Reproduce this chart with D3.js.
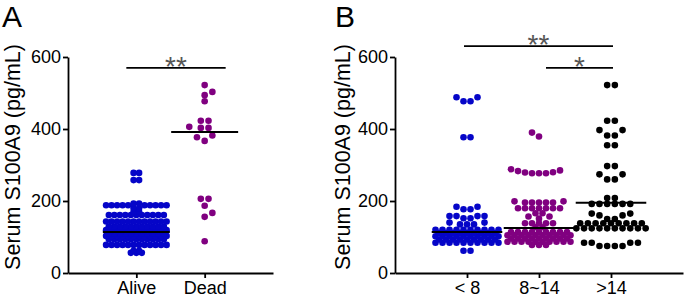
<!DOCTYPE html>
<html>
<head>
<meta charset="utf-8">
<script src="https://cdn.jsdelivr.net/npm/d3@7"></script>
<style>
  body { margin: 0; background: #fff; }
  svg { display: block; font-family: Arial, "Liberation Sans", sans-serif; }
</style>
</head>
<body>
<div id="chart"></div>
<script>
// ---- data, panel A (survival) ----
const survival = ["Alive", "Dead"];
const alive = [
  56, 56, 56, 62, 62,
  78, 78, 78, 78, 78, 78, 78, 78, 78, 78, 78, 78,
  94, 94, 94, 94, 94, 94, 94, 94, 94, 94, 94,
  103, 103, 103, 103, 103, 103, 103, 103, 103, 103, 103, 103,
  110, 110, 110, 110, 110, 110, 110, 110, 110, 110, 110,
  119, 119, 119, 119, 119, 119, 119, 119, 119, 119, 119, 119,
  129, 129, 129, 129, 129, 129, 129, 129, 129, 129, 129,
  143, 143, 143, 143, 143, 143, 143, 143, 143, 143, 143, 143,
  161, 161, 161, 161, 161, 161, 161, 161, 161, 161, 161,
  170, 170, 180, 180,
  188, 188, 188, 188, 188, 188, 188, 188, 188, 188,
  193, 193, 258, 258, 278, 278
];
const dead = [88, 156, 167, 187, 206, 206, 367, 377, 382, 403, 403, 406, 423, 423, 477, 494, 503, 522];
const survivalMedians = [114, 392];

// ---- data, panel B (length of stay) ----
const stay = ["< 8", "8~14", ">14"];
const stayUnder8 = [
  62, 62,
  84, 84, 84, 84, 84, 84, 84, 84, 84, 84,
  93, 93, 93, 93, 93, 93, 93, 93, 93,
  102, 102, 102, 102, 102, 102, 102, 102, 102, 102,
  111, 111, 111, 111, 111, 111, 111, 111, 111,
  120, 120, 120, 120, 120, 120, 120, 120, 120, 120,
  135, 135, 135, 140, 140, 152, 152, 158, 158, 158, 158,
  177, 177, 184, 184, 377, 377, 477, 477, 488, 488
];
const stay8to14 = [
  78, 78, 78,
  87, 87, 87, 87, 87, 87, 87, 87, 87, 87,
  96, 96, 96, 96, 96, 96, 96, 96, 96,
  105, 105, 105, 105, 105, 105, 105, 105, 105, 105,
  114, 114, 114, 114, 114, 114, 114, 114, 114,
  127, 127, 138, 138, 138, 138, 138, 151, 157, 157, 166, 166,
  180, 180, 180, 180, 180, 180, 180,
  196, 196, 196, 196, 196, 199, 199,
  277, 277, 277, 279, 280, 283, 285, 288, 379, 390
];
const stayOver14 = [
  75, 75, 75, 75, 84, 84, 84, 84,
  124, 124, 124, 124, 124, 124, 124, 124, 124, 124,
  138, 138, 138, 138, 138, 138, 138, 138, 138,
  150, 150, 160, 160, 165, 165,
  192, 192, 192, 192, 192, 192,
  208, 208, 260, 260, 274, 274, 297, 297,
  355, 355, 382, 382, 397, 397, 423, 423, 522, 522
];
const stayMedians = [114, 125, 195];

const yTicks = [0, 200, 400, 600];
const blue = "#0505c8", purple = "#800080", black = "#000000";

// ---- layout ----
const W = 685, H = 298;
const y = d3.scaleLinear().domain([0, 600]).range([273, 57]);
const R = 3.3;

const svg = d3.select("#chart").append("svg")
  .attr("width", W).attr("height", H);

// GraphPad-like swarm: ascending order, identical values centred as a row,
// each dot takes the free slot nearest the centre
function swarm(values, step, minDist) {
  const sorted = values.slice().sort((a, b) => a - b);
  const placed = [];
  let flip = 1;
  let i = 0;
  while (i < sorted.length) {
    let j = i;
    while (j < sorted.length && sorted[j] === sorted[i]) j++;
    const half = (j - i) % 2 === 0 ? 0.5 : 0;
    const py = y(sorted[i]);
    for (let k = i; k < j; k++) {
      const cands = [];
      if (half === 0) cands.push(0);
      for (let s = 0; s < 40; s++) {
        const o = half === 0 ? s + 1 : s + 0.5;
        cands.push(flip * o, -flip * o);
      }
      for (const o of cands) {
        const px = o * step;
        const hit = placed.some(p => {
          const dx = p.dx - px, dy = p.py - py;
          return dx * dx + dy * dy < minDist * minDist - 1e-6;
        });
        if (!hit) { placed.push({ v: sorted[k], dx: px, py: py }); break; }
      }
    }
    if (j - i === 1) flip = -flip;
    i = j;
  }
  return placed;
}

function drawPanel(cfg) {
  const g = svg.append("g");
  const x = d3.scalePoint().domain(cfg.cats).range([cfg.left, cfg.right]).padding(1);

  // panel letter
  g.append("text")
    .attr("x", cfg.letterX).attr("y", 27)
    .style("font-size", "30px")
    .text(cfg.letter);

  // y label
  g.append("text")
    .attr("transform", "translate(" + cfg.labelX + ",157) rotate(-90)")
    .style("text-anchor", "middle")
    .style("font-size", "21.5px")
    .text("Serum S100A9 (pg/mL)");

  // axes
  const ya = g.append("g")
    .attr("transform", "translate(" + cfg.left + ",0)")
    .call(d3.axisLeft(y).tickValues(yTicks).tickSize(5).tickSizeOuter(0).tickPadding(2));
  const xa = g.append("g")
    .attr("transform", "translate(0," + y(0) + ")")
    .call(d3.axisBottom(x).tickSize(5).tickSizeOuter(0).tickPadding(3));
  [ya, xa].forEach(a => {
    a.selectAll("path, line").attr("stroke", "#000").attr("stroke-width", 1.8);
    a.selectAll("text").attr("fill", "#000").style("font-size", "18px")
      .style("font-family", "Arial, 'Liberation Sans', sans-serif");
  });

  // dots
  cfg.groups.forEach((vals, gi) => {
    const cx = x(cfg.cats[gi]);
    const pts = swarm(vals, cfg.steps[gi], cfg.minDist[gi]);
    g.append("g").selectAll("circle")
      .data(pts)
      .enter().append("circle")
      .attr("cx", d => cx + d.dx)
      .attr("cy", d => y(d.v))
      .attr("r", R)
      .attr("fill", cfg.colors[gi]);
  });

  // median lines
  const half = x.step() * 0.49;
  g.selectAll(".median")
    .data(cfg.medians)
    .enter().append("line")
    .attr("class", "median")
    .attr("x1", (d, i) => x(cfg.cats[i]) - half)
    .attr("x2", (d, i) => x(cfg.cats[i]) + half)
    .attr("y1", d => y(d)).attr("y2", d => y(d))
    .attr("stroke", "#000").attr("stroke-width", 2);

  // significance bars
  cfg.brackets.forEach(b => {
    const x1 = x(b.from) + b.pad[0], x2 = x(b.to) + b.pad[1];
    g.append("line")
      .attr("x1", x1).attr("x2", x2)
      .attr("y1", y(b.at)).attr("y2", y(b.at))
      .attr("stroke", "#000").attr("stroke-width", 1.8);
    g.append("text")
      .attr("x", (x1 + x2) / 2).attr("y", y(b.at) + 8)
      .style("text-anchor", "middle")
      .style("font-size", "28px")
      .attr("fill", "#555")
      .text(b.label);
  });
}

drawPanel({
  letter: "A", letterX: 2, labelX: 20,
  left: 68, right: 273,
  cats: survival,
  groups: [alive, dead],
  colors: [blue, purple],
  steps: [5.5, 7.7], minDist: [3.4, 5.5],
  medians: survivalMedians,
  brackets: [{ from: "Alive", to: "Dead", at: 570, label: "**", pad: [-10, 21] }]
});

drawPanel({
  letter: "B", letterX: 335, labelX: 350,
  left: 395, right: 683,
  cats: stay,
  groups: [stayUnder8, stay8to14, stayOver14],
  colors: [blue, purple, black],
  steps: [7, 7, 7.7], minDist: [4.6, 4.6, 5.5],
  medians: stayMedians,
  brackets: [
    { from: "< 8", to: ">14", at: 630, label: "**", pad: [-3, 2] },
    { from: "8~14", to: ">14", at: 570, label: "*", pad: [7, 2] }
  ]
});
</script>
</body>
</html>
